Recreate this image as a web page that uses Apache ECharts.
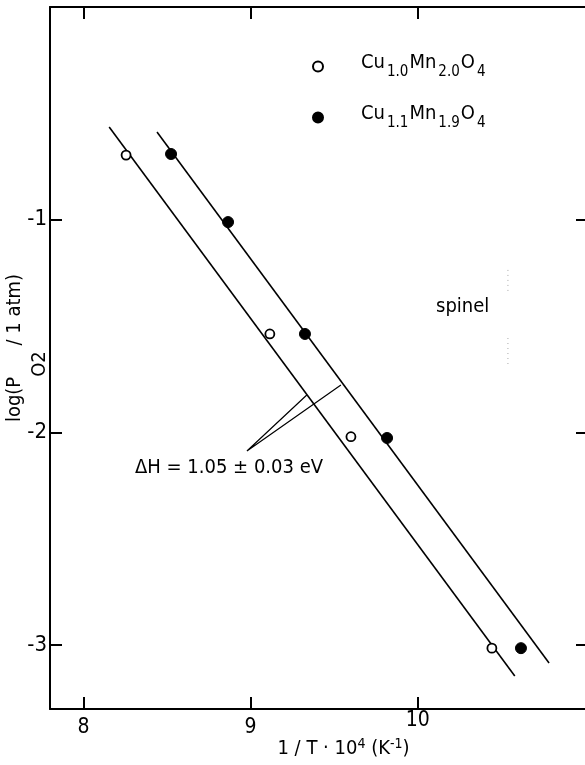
<!DOCTYPE html>
<html>
<head>
<meta charset="utf-8">
<script src="https://cdn.jsdelivr.net/npm/echarts@6/dist/echarts.min.js"></script>
<style>
  html, body { margin: 0; padding: 0; background: #fff; }
  #chart { width: 585px; height: 765px; }
</style>
</head>
<body>
<div id="chart"></div>
<script>
// Oxygen partial pressure vs. reciprocal temperature for two copper manganite spinels
const FONT = "'DejaVu Sans Condensed', 'DejaVu Sans', sans-serif";

const xTicks = [8, 9, 10];
const yTicks = [-1, -2, -3];

// Cu1.0Mn2.0O4 (open circles)
const openX = [8.255, 9.115, 9.60, 10.443];
const openY = [-0.696, -1.537, -2.02, -3.014];
// Cu1.1Mn1.9O4 (filled circles)
const filledX = [8.524, 8.865, 9.325, 9.816, 10.617];
const filledY = [-0.691, -1.011, -1.537, -2.026, -3.014];

// fitted straight lines (end points)
const openFitX = [8.154, 10.58];
const openFitY = [-0.564, -3.145];
const filledFitX = [8.44, 10.785];
const filledFitY = [-0.588, -3.084];

// leader lines pointing from the ΔH label to both fit lines
const leaderX = [9.540, 8.978, 9.336];
const leaderY = [-1.777, -2.087, -1.824];

// faint dotted phase boundary next to "spinel"
const boundaryX = [10.539, 10.539, 10.539, 10.539];
const boundaryY = [-1.236, -1.340, -1.556, -1.693];

const seriesNames = ['Cu1.0Mn2.0O4', 'Cu1.1Mn1.9O4'];
const seriesRich = {
  'Cu1.0Mn2.0O4': '{m|Cu}{s|1.0}{m|Mn}{s|2.0}{m|O}{s|4}',
  'Cu1.1Mn1.9O4': '{m|Cu}{s|1.1}{m|Mn}{s|1.9}{m|O}{s|4}'
};

const zip = (xs, ys) => xs.map((x, i) => [x, ys[i]]);

const chart = echarts.init(document.getElementById('chart'), null, { renderer: 'canvas' });

const axisLineStyle = { color: '#000', width: 2 };
const tickStyle = { width: 2, color: '#000' };

chart.setOption({
  backgroundColor: '#fff',
  animation: false,
  grid: { left: 50, top: 7, right: 0, bottom: 56, containLabel: false, outerBoundsMode: 'none' },
  legend: {
    orient: 'vertical',
    left: 307,
    top: 48,
    itemGap: 24,
    itemWidth: 10,
    itemHeight: 10,
    data: seriesNames,
    formatter: name => seriesRich[name],
    textStyle: {
      padding: [0, 0, 0, 33],
      rich: {
        m: { fontFamily: FONT, fontSize: 20, color: '#000', verticalAlign: 'top' },
        s: { fontFamily: FONT, fontSize: 15, color: '#000', padding: [12, 1, 0, 2], verticalAlign: 'top' }
      }
    }
  },
  xAxis: [
    {
      type: 'value', min: 7.8, max: 11, position: 'bottom',
      axisLine: { onZero: false, lineStyle: axisLineStyle },
      splitLine: { show: false },
      axisTick: { inside: true, length: 12, lineStyle: tickStyle, customValues: xTicks },
      axisLabel: {
        customValues: xTicks, margin: 1,
        formatter: v => (v === 10 ? '{hi|' + v + '}' : '{lo|' + v + '}'),
        rich: {
          hi: { fontFamily: FONT, fontSize: 21, color: '#000' },
          lo: { fontFamily: FONT, fontSize: 21, color: '#000', padding: [7, 0, 0, 0] }
        }
      },
      name: '1 / T · 10{sup|4} (K{sup|-1})',
      nameLocation: 'middle',
      nameGap: 28,
      nameMoveOverlap: false,
      nameTextStyle: {
        fontFamily: FONT, fontSize: 20, color: '#000',
        padding: [0, 0, 0, 52],
        rich: {
          sup: { fontFamily: FONT, fontSize: 14, color: '#000', verticalAlign: 'top', padding: [0, 0, 10, 0] }
        }
      }
    },
    {
      type: 'value', min: 7.8, max: 11, position: 'top',
      axisLine: { onZero: false, lineStyle: axisLineStyle },
      splitLine: { show: false },
      axisTick: { inside: true, length: 12, lineStyle: tickStyle, customValues: xTicks },
      axisLabel: { show: false }
    }
  ],
  yAxis: [
    {
      type: 'value', min: -3.3, max: 0, position: 'left',
      axisLine: { onZero: false, lineStyle: axisLineStyle },
      splitLine: { show: false },
      axisTick: { inside: true, length: 12, lineStyle: tickStyle, customValues: yTicks },
      axisLabel: { customValues: yTicks, margin: 3, fontFamily: FONT, fontSize: 22, color: '#000' },
      name: '{m|log(P}{sub|O2}{m| / 1 atm)}',
      nameLocation: 'middle',
      nameRotate: 90,
      nameGap: 0,
      nameMoveOverlap: false,
      nameTextStyle: {
        fontFamily: FONT, fontSize: 20, color: '#000',
        padding: [0, 0, 0, 20],
        rich: {
          m: { fontFamily: FONT, fontSize: 20, color: '#000', verticalAlign: 'top' },
          sub: { fontFamily: FONT, fontSize: 20, color: '#000', verticalAlign: 'top', padding: [25, 0, 0, 0] }
        }
      }
    },
    {
      type: 'value', min: -3.3, max: 0, position: 'right',
      axisLine: { show: false, onZero: false },
      splitLine: { show: false },
      axisTick: { show: true, inside: true, length: 9, lineStyle: tickStyle, customValues: yTicks },
      axisLabel: { show: false }
    }
  ],
  graphic: [
    {
      type: 'text', left: 135, top: 458,
      style: { text: 'ΔH = 1.05 ± 0.03 eV', fontFamily: FONT, fontSize: 20, fill: '#000' }
    },
    {
      type: 'text', left: 436, top: 297,
      style: { text: 'spinel', fontFamily: FONT, fontSize: 20, fill: '#000' }
    }
  ],
  series: [
    {
      name: 'openFit', type: 'line', data: zip(openFitX, openFitY),
      showSymbol: false, symbol: 'none', silent: true,
      lineStyle: { color: '#000', width: 1.6 }, z: 2
    },
    {
      name: 'filledFit', type: 'line', data: zip(filledFitX, filledFitY),
      showSymbol: false, symbol: 'none', silent: true,
      lineStyle: { color: '#000', width: 1.6 }, z: 2
    },
    {
      name: 'leader', type: 'line', data: zip(leaderX, leaderY),
      showSymbol: false, symbol: 'none', silent: true,
      lineStyle: { color: '#000', width: 1.2 }, z: 2
    },
    {
      name: 'boundaryUpper', type: 'line', data: zip(boundaryX.slice(0, 2), boundaryY.slice(0, 2)),
      showSymbol: false, symbol: 'none', silent: true,
      lineStyle: { color: '#aaa', width: 1, type: [1, 4] }, z: 1
    },
    {
      name: 'boundaryLower', type: 'line', data: zip(boundaryX.slice(2), boundaryY.slice(2)),
      showSymbol: false, symbol: 'none', silent: true,
      lineStyle: { color: '#aaa', width: 1, type: [1, 4] }, z: 1
    },
    {
      name: seriesNames[0], type: 'scatter', data: zip(openX, openY),
      symbol: 'circle', symbolSize: 9,
      itemStyle: { color: '#fff', borderColor: '#000', borderWidth: 1.8, opacity: 1 }, z: 3
    },
    {
      name: seriesNames[1], type: 'scatter', data: zip(filledX, filledY),
      symbol: 'circle', symbolSize: 11,
      itemStyle: { color: '#000', borderColor: '#000', borderWidth: 1, opacity: 1 }, z: 3
    }
  ]
});
</script>
</body>
</html>
